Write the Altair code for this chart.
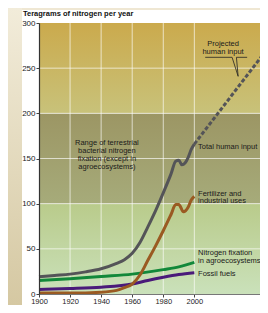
import altair as alt
import pandas as pd

# ---- data ----
years_total = [1900, 1910, 1920, 1930, 1940, 1950, 1955, 1960, 1965, 1970, 1975, 1980,
               1985, 1988, 1990, 1992, 1994, 1996, 1998, 2000]
total = [19, 20.5, 22, 24.5, 28, 34, 38, 45, 57, 74, 92, 112, 133, 147, 148, 143, 145, 151, 160, 166]

years_proj = [2000, 2050]
proj = [166, 278]

years_fert = [1900, 1920, 1940, 1950, 1955, 1960, 1965, 1970, 1975, 1980, 1985, 1988,
              1990, 1993, 1996, 1998, 2000]
fert = [1, 1, 2, 4, 7, 11, 21, 37, 53, 70, 88, 99, 99, 91, 96, 104, 108]

years_agro = [1900, 1920, 1940, 1960, 1980, 1990, 2000]
agro = [15, 17, 19.5, 22, 27, 30, 35]

years_fossil = [1900, 1920, 1940, 1960, 1970, 1980, 1990, 2000]
fossil = [5, 6, 7.5, 11, 15, 18.5, 21.5, 23.5]

x_ticks = [1900, 1920, 1940, 1960, 1980, 2000, 2050]
y_ticks = [0, 50, 100, 150, 200, 250, 300]
grid_years = [1920, 1940, 1960, 1980, 2000]
grid_values = [50, 100, 150, 200, 250]

band_low = [0, 100, 200]
band_high = [100, 200, 300]

label_left_text = ["Total human input", "Fertilizer and", "industrial uses",
                   "Nitrogen fixation", "in agroecosystems", "Fossil fuels"]
label_left_year = [2002.4, 2002.4, 2002.4, 2002.4, 2002.4, 2002.4]
label_left_value = [163, 111, 103, 45.3, 36.6, 21.7]

label_center_text = ["Range of terrestrial", "bacterial nitrogen", "fixation (except in",
                     "agroecosystems)", "Projected", "human input"]
label_center_year = [1943.7, 1943.7, 1943.7, 1943.7, 2018.5, 2018.5]
label_center_value = [167, 158, 149.7, 140.2, 277, 268]

callout_year = [2007, 2024.3, 2028.2, 2027.1, 2034]
callout_value = [262, 262, 241, 262, 262]

W, H = 221, 271          # visible plot area
XR = 233                 # pixel span of 1900..2050 (runs past the visible edge)
FONT = "Liberation Sans"

xs = alt.Scale(domain=[1900, 2050], range=[0, XR], nice=False)
ys = alt.Scale(domain=[0, 300], nice=False)

x_axis = alt.Axis(values=x_ticks, format="d", grid=False, title=None, labelOverlap=False,
                  labelFlush=False, zindex=1)
y_axis = alt.Axis(values=y_ticks, grid=False, title=None, labelOverlap=False, zindex=1)


def X(field):
    return alt.X(field, scale=xs, axis=x_axis)


def Y(field):
    return alt.Y(field, scale=ys, axis=y_axis)


def series(years, vals, name):
    return pd.DataFrame({"year": years, "value": vals, "series": name})


def grad(top, bottom):
    return alt.Gradient(gradient="linear",
                        stops=[alt.GradientStop(color=top, offset=0),
                               alt.GradientStop(color=bottom, offset=1)],
                        x1=0, x2=0, y1=0, y2=1)


one = pd.DataFrame({"a": [0]})

# decorative page pieces
left_strip = alt.Chart(one).mark_rect(color=grad("#f2ecda", "#d5c8a2")).encode(
    x=alt.value(-31), x2=alt.value(-17), y=alt.value(-15), y2=alt.value(H + 11))
white_area = alt.Chart(one).mark_rect(color="white").encode(
    x=alt.value(-17), x2=alt.value(W + 10), y=alt.value(-13), y2=alt.value(H + 11))

bands = pd.DataFrame({"lo": band_low, "hi": band_high})
band_colors = [("#b9cb8b", "#cae1ba"), ("#9c9664", "#a6ab7a"), ("#cbaa4d", "#c8c27a")]
band_layers = []
for i, (top, bottom) in enumerate(band_colors):
    band_layers.append(
        alt.Chart(bands.iloc[[i]]).mark_rect(color=grad(top, bottom)).encode(
            x=alt.value(0), x2=alt.value(W + 10),
            y=Y("hi:Q"), y2="lo:Q"))

hgrid = alt.Chart(pd.DataFrame({"v": grid_values})).mark_rule(
    color="white", strokeWidth=1, opacity=0.65).encode(y=Y("v:Q"))
vgrid = alt.Chart(pd.DataFrame({"yr": grid_years})).mark_rule(
    color="white", strokeWidth=1, opacity=0.65).encode(x=X("yr:Q"))

line_specs = [
    (series(years_agro, agro, "agro"), "#12883a"),
    (series(years_fossil, fossil, "fossil"), "#4a1a7a"),
    (series(years_fert, fert, "fert"), "#9a5a22"),
    (series(years_total, total, "total"), "#545458"),
]
lines = [
    alt.Chart(df).mark_line(color=c, strokeWidth=3, interpolate="monotone").encode(
        x=X("year:Q"), y=Y("value:Q"))
    for df, c in line_specs
]
proj_line = alt.Chart(series(years_proj, proj, "proj")).mark_line(
    color="#545458", strokeWidth=3, strokeDash=[4, 2]).encode(
    x=X("year:Q"), y=Y("value:Q"))

callout = alt.Chart(pd.DataFrame({"year": callout_year, "value": callout_value,
                                  "o": list(range(len(callout_year)))})).mark_line(
    color="#222222", strokeWidth=0.8).encode(
    x=X("year:Q"), y=Y("value:Q"), order="o:Q")

txt_left = alt.Chart(pd.DataFrame({"year": label_left_year, "value": label_left_value,
                                   "t": label_left_text})).mark_text(
    align="left", baseline="middle", fontSize=7.5, font=FONT, color="#1a1a1a").encode(
    x=X("year:Q"), y=Y("value:Q"), text="t:N")
txt_center = alt.Chart(pd.DataFrame({"year": label_center_year, "value": label_center_value,
                                     "t": label_center_text})).mark_text(
    align="center", baseline="middle", fontSize=7.5, font=FONT, color="#1a1a1a").encode(
    x=X("year:Q"), y=Y("value:Q"), text="t:N")

title = alt.Chart(one).mark_text(
    align="left", baseline="middle", fontSize=7.5, fontWeight="bold", font=FONT,
    color="#111111").encode(x=alt.value(-16), y=alt.value(-9),
                            text=alt.value("Teragrams of nitrogen per year"))

chart = alt.layer(
    left_strip, white_area, *band_layers, hgrid, vgrid, *lines, proj_line, callout,
    txt_left, txt_center, title
).properties(
    width=W, height=H,
    autosize=alt.AutoSizeParams(type="none"),
    padding={"left": 31, "top": 15, "right": 0, "bottom": 11},
    background="#efe7d3",
).configure_view(stroke=None, clip=False).configure_axis(
    labelFont=FONT, labelColor="#222222", tickColor="#444444", tickSize=3,
    labelPadding=0, labelOverlap=False, grid=False
).configure_axisX(
    labelFontSize=7.5, domainColor="#777777"
).configure_axisY(
    labelFontSize=8, domainColor="#333333", domainWidth=1.2, labelPadding=1
)

chart.save("out.html", embed_options={"renderer": "svg", "actions": False})
